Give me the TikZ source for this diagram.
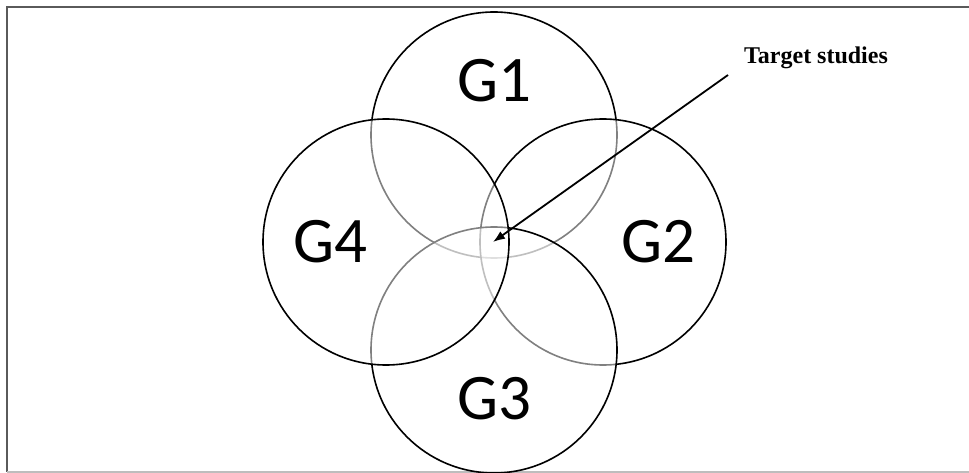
\documentclass[tikz,border=0pt]{standalone}
\usepackage{fontspec}
\usepackage{tikz}
\usetikzlibrary{arrows.meta}
\newfontfamily\groupfont{Carlito}
\newfontfamily\notefont{Liberation Serif}
\definecolor{frameGray}{RGB}{90, 90, 90}

\begin{document}
\begin{tikzpicture}[x=1pt, y=-1pt, >={Latex[length=12pt, width=9pt]},
  group/.style={draw=black, line width=1.6pt, circle, minimum size=246pt,
    inner sep=0pt, fill=white, fill opacity=0.5},
  grouplabel/.style={anchor=base, font=\groupfont\fontsize{65}{65}\selectfont},
  frame/.style={draw=frameGray, line width=1.3pt}]
  \useasboundingbox (0,0) rectangle (969,473);
  % frame (open on the right)
  \draw[frame] (969,7) -- (7,7) -- (7,472);
  \draw[frame, draw=frameGray!40] (7,472) -- (969,472);
  % the four groups, each one fading the lines below it
  \node[group] (g1) at (494,135) {};
  \node[group] (g2) at (603,242) {};
  \node[group] (g3) at (494,350) {};
  \node[group] (g4) at (386,242) {};
  \node[grouplabel] (l1) at (494,102) {G1};
  \node[grouplabel] (l2) at (658,262) {G2};
  \node[grouplabel] (l3) at (494,419) {G3};
  \node[grouplabel] (l4) at (330,262) {G4};
  % pointer to the common part
  \node[anchor=base, font=\notefont\bfseries\fontsize{24}{24}\selectfont] (target) at (816,64) {Target studies};
  \coordinate (tail) at (728,75);
  \coordinate (tip) at (493,242);
  \draw[->, line width=1.8pt] (tail) -- (tip);
\end{tikzpicture}
\end{document}
